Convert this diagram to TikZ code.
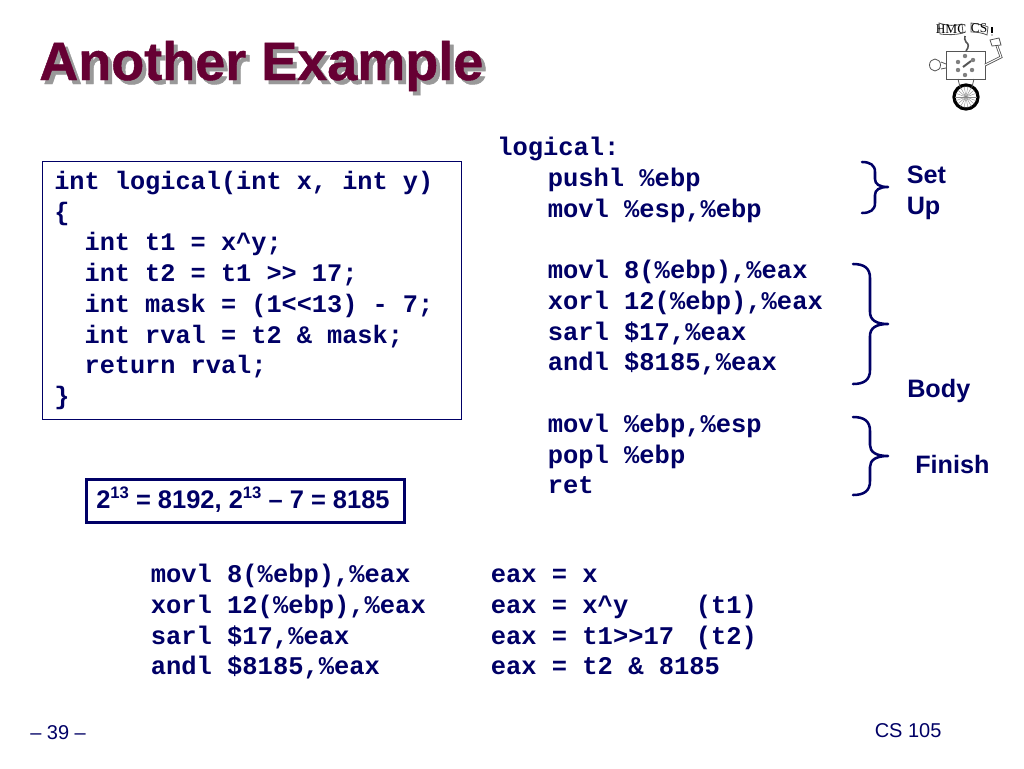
\documentclass[tikz,border=0pt]{standalone}
\usepackage{fontspec}
\setmainfont{Liberation Sans}
\newfontfamily\codefont{Liberation Mono}
\newfontfamily\logofont{Liberation Serif}
\newfontface\titlefont{Liberation Sans Bold}[FakeBold=0.8]
\definecolor{navy}{HTML}{000066}
\definecolor{maroon}{HTML}{660033}
\definecolor{shadowgrey}{HTML}{999999}
\definecolor{logoline}{HTML}{555555}
\tikzset{
  x=0.75pt,y=-0.75pt,
  code/.style={anchor=base west,inner sep=0pt,text=navy,font=\codefont\bfseries\fontsize{19.1pt}{22pt}\selectfont},
  srccode/.style={anchor=base west,inner sep=0pt,text=navy,font=\codefont\bfseries\fontsize{18.95pt}{22pt}\selectfont},
  label/.style={anchor=base west,inner sep=0pt,text=navy,font=\bfseries\fontsize{18.9pt}{22pt}\selectfont},
  formula/.style={anchor=base west,inner sep=0pt,text=navy,font=\bfseries\fontsize{19.1pt}{22pt}\selectfont},
  foot/.style={anchor=base west,inner sep=0pt,text=navy,font=\fontsize{15pt}{18pt}\selectfont},
  titletext/.style={anchor=base west,inner sep=0pt,font=\titlefont\fontsize{40.5pt}{44pt}\selectfont},
  bracepath/.style={draw=navy,line width=1.9pt,line cap=round,line join=round},
  logo/.style={draw=logoline,line width=0.6pt},
  logotext/.style={anchor=center,inner sep=0pt,text=black,font=\logofont\fontsize{10pt}{10pt}\selectfont},
  logodot/.style={fill=logoline!75,draw=none}
}
\begin{document}
\begin{tikzpicture}
\useasboundingbox (0,0) rectangle (1024,768);
\fill[white] (0,0) rectangle (1024,768);
% title
\node[titletext,text=shadowgrey] (titleshadow) at (43,84) {Another Example};
\node[titletext,text=maroon] (title) at (39,80) {Another Example};
% C source box
\node[draw=navy,line width=1.1pt,anchor=north west,inner sep=0pt,minimum width=314.25pt,minimum height=193.5pt] (srcbox) at (42,161) {};
\node[srccode] (s1) at (54,189) {int logical(int x, int y)};
\node[srccode] (s2) at (54,220) {\{};
\node[srccode] (s3) at (54,250.5) {\ \ int t1 = x\^{}y;};
\node[srccode] (s4) at (54,281) {\ \ int t2 = t1 >{}> 17;};
\node[srccode] (s5) at (54,312) {\ \ int mask = (1<{}<13) - 7;};
\node[srccode] (s6) at (54,343) {\ \ int rval = t2 \& mask;};
\node[srccode] (s7) at (54,373.5) {\ \ return rval;};
\node[srccode] (s8) at (54,404) {\}};
% assembly
\node[code] (a1) at (497,155) {logical:};
\node[code] (a2) at (547.5,186) {pushl \%ebp};
\node[code] (a3) at (547.5,217) {movl \%esp,\%ebp};
\node[code] (a4) at (547.5,278) {movl 8(\%ebp),\%eax};
\node[code] (a5) at (547.5,309) {xorl 12(\%ebp),\%eax};
\node[code] (a6) at (547.5,340) {sarl \$17,\%eax};
\node[code] (a7) at (547.5,370.5) {andl \$8185,\%eax};
\node[code] (a8) at (547.5,432) {movl \%ebp,\%esp};
\node[code] (a9) at (547.5,463) {popl \%ebp};
\node[code] (a10) at (547.5,493) {ret};
% braces
\path[bracepath] (862,162) .. controls (870,162) and (875,165) .. (875,172) -- (875,179) .. controls (875,184) and (879,187) .. (888,187) .. controls (879,187) and (875,190) .. (875,195) -- (875,203) .. controls (875,210) and (870,213) .. (862,213);
\path[bracepath] (853,264) .. controls (864,264) and (870,268) .. (870,278) -- (870,312) .. controls (870,320) and (876,324) .. (888,324) .. controls (876,324) and (870,328) .. (870,336) -- (870,370) .. controls (870,380) and (864,384) .. (853,384);
\path[bracepath] (853,417) .. controls (864,417) and (870,421) .. (870,431) -- (870,445) .. controls (870,452) and (876,456) .. (888,456) .. controls (876,456) and (870,460) .. (870,467) -- (870,481) .. controls (870,491) and (864,495) .. (853,495);
\node[label] (setl) at (906.5,183.5) {Set};
\node[label] (upl) at (906.5,214.5) {Up};
\node[label] (bodyl) at (907,397.5) {Body};
\node[label] (finl) at (915,473.5) {Finish};
% formula box
\node[draw=navy,line width=1.9pt,anchor=north west,inner sep=0pt,minimum width=238.5pt,minimum height=32.5pt] (fbox) at (85,478) {};
\node[formula] (ftext) at (96,508) {2\raisebox{0.38em}{\fontsize{12.5pt}{12pt}\selectfont 13} = 8192, 2\raisebox{0.38em}{\fontsize{12.5pt}{12pt}\selectfont 13} – 7 = 8185};
% lower code
\node[code] (b1) at (150.5,582) {movl 8(\%ebp),\%eax};
\node[code] (b2) at (150.5,613) {xorl 12(\%ebp),\%eax};
\node[code] (b3) at (150.5,644) {sarl \$17,\%eax};
\node[code] (b4) at (150.5,674) {andl \$8185,\%eax};
\node[code] (c1) at (490.5,582) {eax = x};
\node[code] (c2) at (490.5,613) {eax = x\^{}y};
\node[code] (c2b) at (695.5,613) {(t1)};
\node[code] (c3) at (490.5,644) {eax = t1>{}>17};
\node[code] (c3b) at (695.5,644) {(t2)};
\node[code] (c4) at (490.5,674) {eax = t2 \& 8185};
% footer
\node[foot] (pg) at (30,739) {– 39 –};
\node[foot] (cs) at (874.5,737) {CS 105};
% logo
\draw[logo,fill=white] (939,23) .. controls (948,26) and (955,26) .. (962,24) -- (963,33) .. controls (955,35) and (948,35) .. (940,34) -- cycle;
\draw[logo,fill=white] (971,23) .. controls (978,24) and (984,25) .. (988,27) -- (987,35) .. controls (983,33) and (977,32) .. (971,32) -- cycle;
\node[logotext] (hmc) at (951,29.5) {HMC};
\node[logotext] (cslogo) at (979,28.5) {CS};
\draw[black,line width=0.9pt] (992,27) -- (992,33);
\fill[black] (992,35) circle (0.7);
\draw[logoline,line width=1.2pt] (966,51) .. controls (969,47) and (969,44) .. (966,42) .. controls (965,40) and (964,38) .. (965,36);
\draw[logo,fill=white] (946,51) rectangle (985,79);
\foreach \px/\py in {965/56,958/62,973/60,958/70,972/70,965/75}{
  \fill[logodot] (\px,\py) circle (2.2);
}
\draw[logoline,line width=1.5pt] (963,67) -- (971,61);
\draw[logo] (946,64) -- (941,62);
\draw[logo] (946,68) -- (941,69);
\draw[logo,fill=white] (935,65) ellipse (5.5 and 6);
\draw[logoline,line width=2pt] (985,65) -- (1001,57) -- (997,46);
\draw[white,line width=0.8pt] (985,65) -- (1001,57) -- (997,46);
\draw[logo,fill=white] (990,40) -- (999,38) -- (1001,45) -- (992,46) -- cycle;
\draw[black,line width=2.4pt] (966,97) circle (12);
\foreach \ang in {0,20,...,340}{
  \draw[logoline!70,line width=0.3pt] (966,97) -- ++(\ang:11);
}
\draw[logo] (958,79) -- (960,87);
\draw[logo] (974,79) -- (972,87);
\end{tikzpicture}
\end{document}
